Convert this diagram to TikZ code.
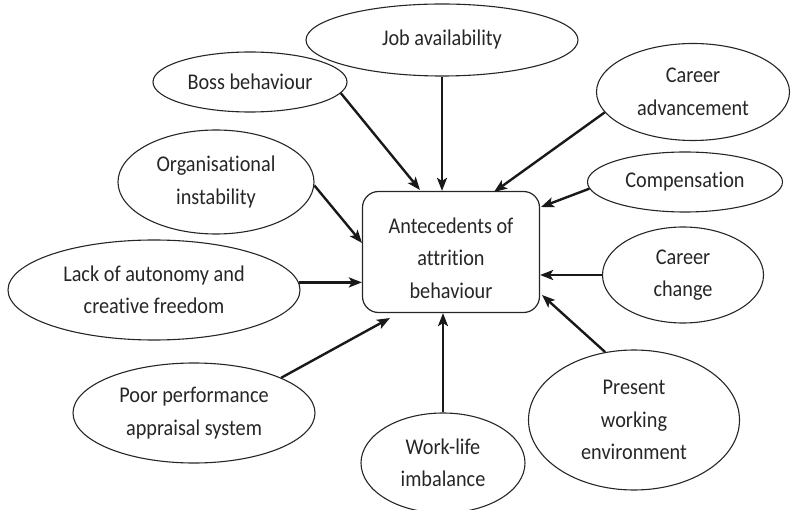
\documentclass[tikz,border=0pt]{standalone}
\usepackage{fontspec}
\setmainfont{Carlito}[FakeStretch=0.9, Ligatures=NoCommon]
\usetikzlibrary{shapes.geometric,arrows.meta}
\begin{document}
\begin{tikzpicture}[x=1pt,y=-1pt,
  every node/.style={font=\fontsize{22.5}{32.5}\selectfont, text=black!85},
  oval/.style={draw=black!85, line width=1.1pt, ellipse, inner sep=0pt, align=center},
  hub/.style={draw=black!85, line width=1.2pt, rounded corners=16pt, inner sep=0pt, align=center},
  link/.style={draw=black!90, line width=2.4pt, -{Stealth[length=13pt,width=10pt,inset=3pt]}}
]
\useasboundingbox (0,0) rectangle (794,510);
\node[hub, minimum width=177pt, minimum height=121pt] (box) at (451,252) {\rule{0pt}{28pt}Antecedents of\\attrition\\behaviour};
\node[oval, minimum width=272pt, minimum height=72pt] (job) at (442,40) {Job availability};
\node[oval, minimum width=194pt, minimum height=60pt] (boss) at (250,82) {Boss behaviour};
\node[oval, minimum width=193pt, minimum height=97pt] (adv) at (693,92) {Career\\advancement};
\node[oval, minimum width=195pt, minimum height=60pt] (comp) at (685,182) {Compensation};
\node[oval, minimum width=161pt, minimum height=96pt] (change) at (683,275) {Career\\change};
\node[oval, minimum width=211pt, minimum height=140pt] (present) at (634,420) {Present\\working\\environment};
\node[oval, minimum width=164pt, minimum height=100pt] (work) at (443,463) {Work-life\\imbalance};
\node[oval, minimum width=242pt, minimum height=100pt] (poor) at (194,413) {Poor performance\\appraisal system};
\node[oval, minimum width=292pt, minimum height=100pt] (lack) at (154,290) {Lack of autonomy and\\creative freedom};
\node[oval, minimum width=196pt, minimum height=104pt] (org) at (216,182) {Organisational\\instability};

\coordinate (eboss) at (420,190);
\coordinate (eadv) at (494,192);
\coordinate (ecomp) at (541,207);
\coordinate (epresent) at (542,295);
\coordinate (epoor) at (390,318);
\coordinate (eorg) at (362,243);

\draw[link] (job.south) -- (job.south |- box.north);
\draw[link] (boss.-7) -- (eboss);
\draw[link] (adv.193) -- (eadv);
\draw[link] (comp.184) -- (ecomp);
\draw[link] (change.west) -- (change.west -| box.east);
\draw[link] (present.113) -- (epresent);
\draw[link] (work.north) -- (work.north |- box.south);
\draw[link] (poor.22) -- (epoor);
\draw[link] (lack.3) -- (lack.3 -| box.west);
\draw[link] (org.-2) -- (eorg);
\end{tikzpicture}
\end{document}
